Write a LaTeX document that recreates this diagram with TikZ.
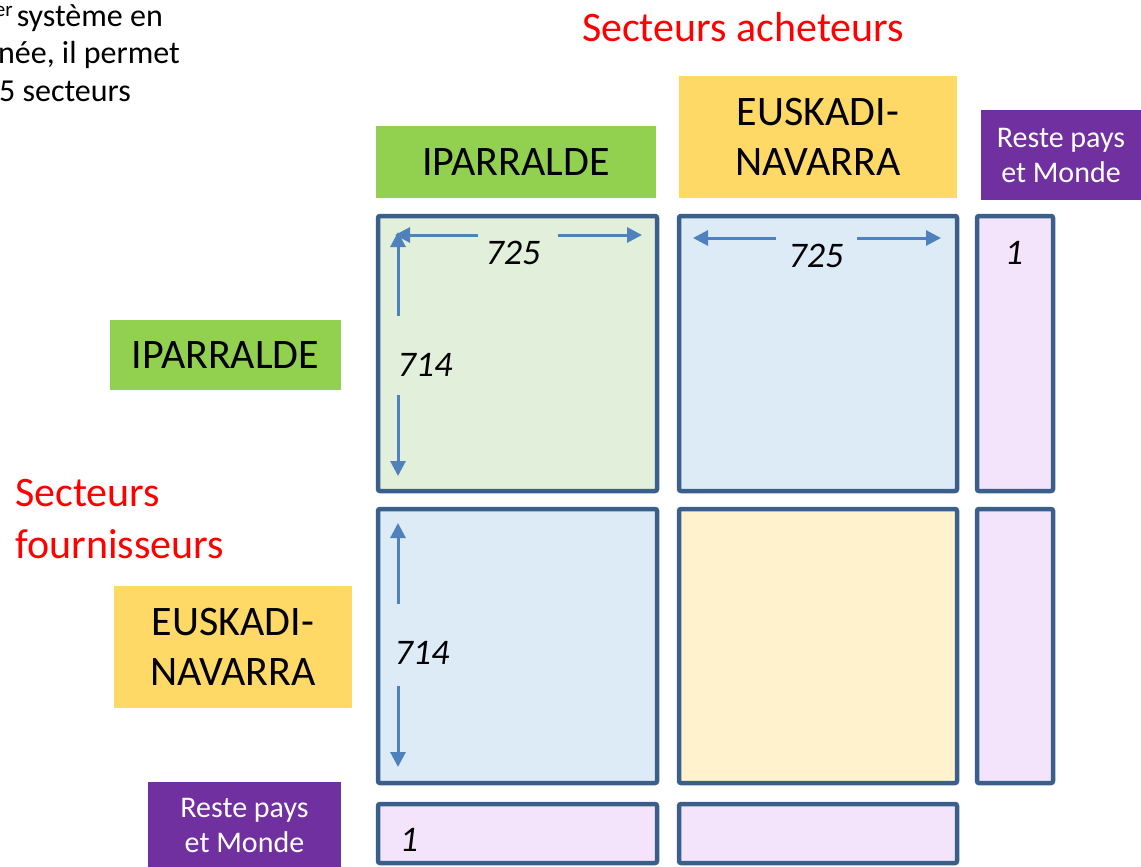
\documentclass[tikz,border=0pt]{standalone}
\usepackage{fontspec}
\setmainfont{Carlito}
\usepackage{xcolor}
\usetikzlibrary{arrows.meta}

\definecolor{ipgreen}{HTML}{92D050}
\definecolor{euyellow}{HTML}{FFD966}
\definecolor{rmpurple}{HTML}{7030A0}
\definecolor{cellline}{HTML}{3A5F8B}
\definecolor{dimblue}{HTML}{4F81BD}
\definecolor{lgreen}{HTML}{E2EFDA}
\definecolor{lblue}{HTML}{DDEBF7}
\definecolor{lyellow}{HTML}{FFF2CC}
\definecolor{lpurple}{HTML}{F3E4FC}
\definecolor{titlered}{HTML}{FF0000}

\tikzset{
	cell/.style={draw=cellline, line width=4.5pt, rounded corners=2pt, inner sep=0pt},
	hdr/.style={inner sep=0pt, align=center, font=\fontsize{42}{50}\selectfont},
	rest/.style={fill=rmpurple, text=white, inner sep=0pt, align=center, font=\fontsize{30}{35}\selectfont},
	dim/.style={draw=dimblue, line width=3pt, -{Triangle[length=15pt,width=15pt]}},
	num/.style={inner sep=0pt, font=\fontsize{36}{42}\selectfont\itshape},
	redtitle/.style={inner sep=0pt, text=titlered, font=\fontsize{42}{48}\selectfont},
	note/.style={inner sep=0pt, font=\fontsize{32}{38}\selectfont}
}

\begin{document}
\begin{tikzpicture}[x=1pt, y=-1pt]

	\useasboundingbox (0,0) rectangle (1141,867);
	\clip (0,0) rectangle (1141,867);

	% texte coupe en haut a gauche
	\node[note, anchor=base east] (noteA) at (163,27) {\raisebox{10pt}{\fontsize{21}{21}\selectfont er}\hspace{4pt}système en};
	\node[note, anchor=base east] (noteB) at (180,64) {née, il permet};
	\node[note, anchor=base east] (noteC) at (131,102) {5 secteurs};

	\node[redtitle, anchor=base] (acheteurs) at (743,42) {Secteurs acheteurs};
	\node[redtitle, anchor=base west] (fournA) at (15,506) {Secteurs};
	\node[redtitle, anchor=base west] (fournB) at (15,558) {fournisseurs};

	% en-tetes des colonnes
	\node[hdr, fill=ipgreen, minimum width=280pt, minimum height=72pt] (ipTop) at (516,162) {IPARRALDE};
	\node[hdr, fill=euyellow, minimum width=278pt, minimum height=122pt] (euTop) at (818,137) {EUSKADI-\\NAVARRA};
	\node[rest, minimum width=160pt, minimum height=90pt] (rmTop) at (1061,155) {Reste pays\\et Monde};

	% en-tetes des lignes
	\node[hdr, fill=ipgreen, minimum width=231pt, minimum height=70pt] (ipLeft) at (225.5,355) {IPARRALDE};
	\node[hdr, fill=euyellow, minimum width=238pt, minimum height=122pt] (euLeft) at (233,647) {EUSKADI-\\NAVARRA};
	\node[rest, minimum width=193pt, minimum height=86pt] (rmLeft) at (244.5,825) {Reste pays\\et Monde};

	% tableau
	\node[cell, fill=lgreen, minimum width=279pt, minimum height=275pt] (c11) at (517.5,353.5) {};
	\node[cell, fill=lblue, minimum width=278pt, minimum height=275pt] (c12) at (818,353.5) {};
	\node[cell, fill=lpurple, minimum width=76pt, minimum height=275pt] (c13) at (1015,353.5) {};

	\node[cell, fill=lblue, minimum width=279pt, minimum height=274pt] (c21) at (517.5,646) {};
	\node[cell, fill=lyellow, minimum width=278pt, minimum height=274pt] (c22) at (818,646) {};
	\node[cell, fill=lpurple, minimum width=76pt, minimum height=274pt] (c23) at (1015,646) {};

	\node[cell, fill=lpurple, minimum width=279pt, minimum height=59pt] (c31) at (517.5,833.5) {};
	\node[cell, fill=lpurple, minimum width=278pt, minimum height=59pt] (c32) at (818,833.5) {};

	% dimensions
	\draw[dim] (478,235) -- (395,235);
	\draw[dim] (558,235) -- (642,235);
	\draw[dim] (398,316) -- (398,232);
	\draw[dim] (398,395) -- (398,476);

	\draw[dim] (776,238) -- (693,238);
	\draw[dim] (857,238) -- (941,238);

	\draw[dim] (398,604) -- (398,523);
	\draw[dim] (398,686) -- (398,767);

	\node[num] (n11a) at (513,253) {725};
	\node[num] (n11b) at (425,365) {714};
	\node[num] (n12) at (816,256) {725};
	\node[num] (n21) at (422,653) {714};
	\node[num] (n13) at (1014,253) {1};
	\node[num] (n31) at (409,840) {1};

\end{tikzpicture}
\end{document}
